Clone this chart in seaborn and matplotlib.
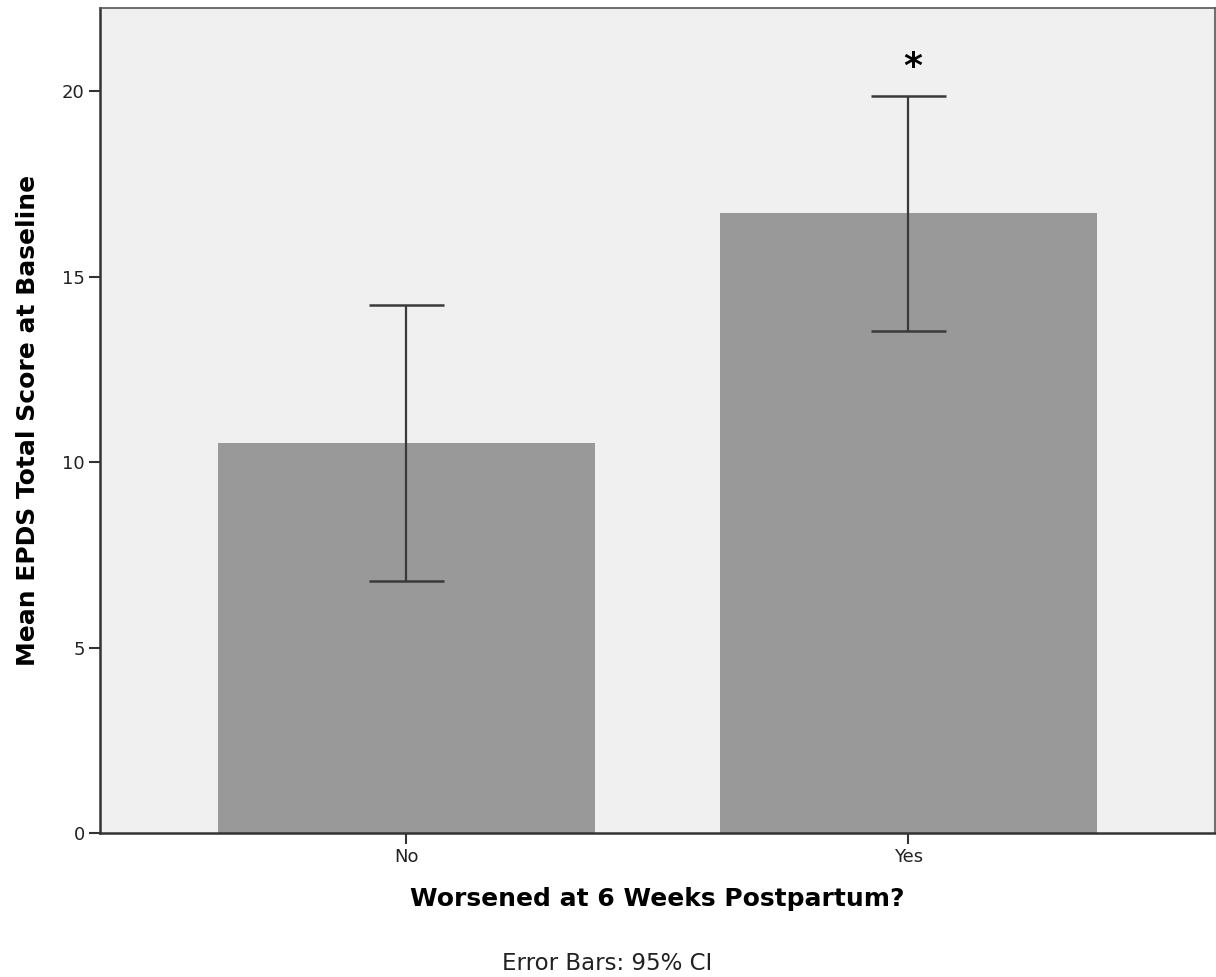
import matplotlib
matplotlib.use("Agg")
import matplotlib.pyplot as plt
import numpy as np
import pandas as pd
import seaborn as sns

# values
categories = ["No", "Yes"]
means = [10.51, 16.71]
ci_low = [6.79, 13.53]
ci_high = [14.23, 19.87]
star_labels = ["", "*"]
star_y = [None, 20.65]

df = pd.DataFrame({"Worsened": categories, "Mean": means})

sns.set_style("white")
plt.rcParams["font.family"] = ["DejaVu Sans"]

fig = plt.figure(figsize=(12.16, 9.77), dpi=100)
ax = fig.add_axes([0.0822, 0.1474, 0.9168, 0.8444])
ax.set_facecolor("#f0f0f0")

sns.barplot(data=df, x="Worsened", y="Mean", color="#999999", saturation=1,
            width=0.75, errorbar=None, linewidth=0, edgecolor="none", ax=ax)

# error bars (95% CI)
lo = np.array(means) - np.array(ci_low)
hi = np.array(ci_high) - np.array(means)
ax.errorbar(np.arange(len(categories)), means, yerr=[lo, hi], fmt="none",
            ecolor="#3a3a3a", elinewidth=1.6, capsize=27, capthick=1.8)

for i, (lab, y) in enumerate(zip(star_labels, star_y)):
    if lab:
        ax.text(i + 0.008, y, lab, ha="center", va="center", fontsize=26,
                fontweight="bold", color="black")

ax.set_xlim(-0.61, 1.61)
ax.set_ylim(0, 22.24)
ax.set_yticks([0, 5, 10, 15, 20])

for side in ["left", "bottom"]:
    ax.spines[side].set_linewidth(1.8)
    ax.spines[side].set_color("#333333")
for side in ["top", "right"]:
    ax.spines[side].set_linewidth(1.2)
    ax.spines[side].set_color("#555555")

ax.tick_params(axis="both", direction="out", length=8, width=1.5,
               color="#333333", labelsize=13, labelcolor="#222222", pad=3)
ax.tick_params(axis="y", left=True)
ax.tick_params(axis="x", bottom=True)

ax.set_xlabel("Worsened at 6 Weeks Postpartum?", fontsize=18, fontweight="bold",
              labelpad=15, color="black")
ax.set_ylabel("Mean EPDS Total Score at Baseline", fontsize=18, fontweight="bold",
              labelpad=16, color="black")

fig.text(0.499, 0.002, "Error Bars: 95% CI", ha="center", va="bottom", fontsize=16.5,
         color="#222222")

fig.savefig("out.png", dpi=100)
